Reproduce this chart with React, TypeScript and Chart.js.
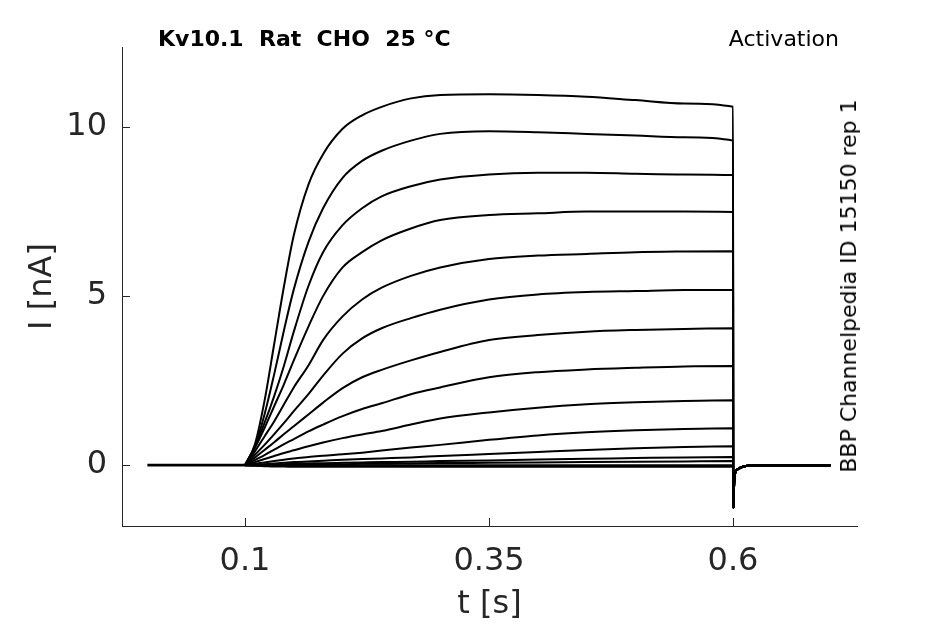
import React, { useEffect, useRef } from "react";
import { Chart, registerables } from "chart.js";

Chart.register(...registerables);

// holding period before the step (s)
const HOLD_TIME = [0, 0.1];

// sample times (s) during the step for each sweep
const TIME = [0.1, 0.11, 0.12, 0.13, 0.14, 0.15, 0.165, 0.18, 0.2, 0.22, 0.24, 0.27, 0.3, 0.35, 0.4, 0.45, 0.5, 0.55, 0.6];

// current (nA) of each sweep at the TIME points
const SWEEP_1 = [0, 0.6, 1.9, 3.6, 5.3, 6.8, 8.3, 9.2, 9.95, 10.35, 10.6, 10.85, 10.95, 10.97, 10.95, 10.9, 10.8, 10.7, 10.6];
const SWEEP_2 = [0, 0.55, 1.5, 2.7, 4.0, 5.2, 6.6, 7.6, 8.5, 9.0, 9.3, 9.6, 9.8, 9.88, 9.85, 9.8, 9.75, 9.7, 9.6];
const SWEEP_3 = [0, 0.55, 1.25, 2.05, 2.95, 3.95, 5.3, 6.3, 7.1, 7.6, 7.95, 8.25, 8.45, 8.6, 8.65, 8.65, 8.62, 8.6, 8.58];
const SWEEP_4 = [0, 0.5, 1.1, 1.75, 2.4, 3.1, 4.1, 5.0, 5.85, 6.3, 6.65, 7.0, 7.25, 7.4, 7.45, 7.5, 7.5, 7.5, 7.49];
const SWEEP_5 = [0, 0.4, 0.85, 1.3, 1.8, 2.3, 2.95, 3.7, 4.4, 4.9, 5.25, 5.6, 5.85, 6.1, 6.2, 6.25, 6.3, 6.32, 6.33];
const SWEEP_6 = [0, 0.3, 0.6, 0.92, 1.25, 1.6, 2.1, 2.65, 3.3, 3.75, 4.05, 4.35, 4.6, 4.9, 5.05, 5.12, 5.15, 5.18, 5.18];
const SWEEP_7 = [0, 0.22, 0.45, 0.68, 0.92, 1.15, 1.5, 1.85, 2.28, 2.6, 2.82, 3.1, 3.35, 3.7, 3.85, 3.95, 4.0, 4.03, 4.05];
const SWEEP_8 = [0, 0.15, 0.3, 0.46, 0.62, 0.77, 1.0, 1.2, 1.45, 1.66, 1.83, 2.1, 2.3, 2.6, 2.75, 2.83, 2.88, 2.92, 2.93];
const SWEEP_9 = [0, 0.09, 0.18, 0.27, 0.36, 0.44, 0.56, 0.67, 0.8, 0.91, 1.01, 1.2, 1.38, 1.56, 1.7, 1.8, 1.86, 1.9, 1.92];
const SWEEP_10 = [0, 0.04, 0.08, 0.12, 0.16, 0.2, 0.24, 0.28, 0.32, 0.37, 0.43, 0.52, 0.6, 0.75, 0.88, 0.97, 1.03, 1.07, 1.09];
const SWEEP_11 = [0, 0.01, 0.03, 0.05, 0.07, 0.09, 0.11, 0.13, 0.16, 0.18, 0.2, 0.23, 0.27, 0.33, 0.39, 0.45, 0.5, 0.54, 0.56];
const SWEEP_12 = [0, 0, 0.01, 0.02, 0.03, 0.04, 0.05, 0.06, 0.07, 0.08, 0.09, 0.1, 0.12, 0.14, 0.17, 0.19, 0.21, 0.23, 0.24];
const SWEEP_13 = [0, 0, 0, 0.01, 0.01, 0.02, 0.02, 0.03, 0.03, 0.04, 0.04, 0.05, 0.06, 0.07, 0.08, 0.09, 0.1, 0.11, 0.12];
const SWEEP_14 = [0, 0, 0, 0, 0, 0, 0, 0, 0, 0, 0, 0, 0, 0, 0, 0, 0, 0, 0];
const SWEEP_15 = [0, -0.02, -0.03, -0.04, -0.04, -0.05, -0.05, -0.05, -0.05, -0.05, -0.05, -0.05, -0.05, -0.05, -0.05, -0.05, -0.05, -0.05, -0.05];

const SWEEPS = [SWEEP_1, SWEEP_2, SWEEP_3, SWEEP_4, SWEEP_5, SWEEP_6, SWEEP_7, SWEEP_8,
  SWEEP_9, SWEEP_10, SWEEP_11, SWEEP_12, SWEEP_13, SWEEP_14, SWEEP_15];

// tail current after the step (capacitive spike)
const TAIL_TIME = [0.6002, 0.6012, 0.6025, 0.605, 0.608, 0.612, 0.62, 0.7];
const TAIL_CURRENT = [-1.27, -0.5, -0.2, -0.12, -0.07, -0.03, 0, 0];

const X_TICKS = [0.1, 0.35, 0.6];
const X_TICK_LABELS = ["0.1", "0.35", "0.6"];
const Y_TICKS = [0, 5, 10];

const AXIS_COLOR = "#262626";
const FONT = "'DejaVu Sans', sans-serif";

// matlab-like inward tick marks
const inwardTicks = {
  id: "inwardTicks",
  afterDraw(chart: Chart) {
    const { ctx, chartArea, scales } = chart;
    ctx.save();
    ctx.strokeStyle = AXIS_COLOR;
    ctx.lineWidth = 1;
    ctx.beginPath();
    X_TICKS.forEach((v) => {
      const px = Math.round(scales.x.getPixelForValue(v)) + 0.5;
      ctx.moveTo(px, chartArea.bottom);
      ctx.lineTo(px, chartArea.bottom - 8);
    });
    Y_TICKS.forEach((v) => {
      const py = Math.round(scales.y.getPixelForValue(v)) + 0.5;
      ctx.moveTo(chartArea.left, py);
      ctx.lineTo(chartArea.left + 8, py);
    });
    ctx.stroke();
    ctx.restore();
  },
};

const App: React.FC = () => {
  const canvasRef = useRef<HTMLCanvasElement | null>(null);
  const chartRef = useRef<Chart | null>(null);

  useEffect(() => {
    if (!canvasRef.current) return;
    if (chartRef.current) chartRef.current.destroy();
    const ctx = canvasRef.current.getContext("2d");
    if (!ctx) return;

    const sweepSets = SWEEPS.map((sweep) => {
      const pts = TIME.map((t, i) => ({ x: t, y: sweep[i] }));
      TAIL_TIME.forEach((t, i) => pts.push({ x: t, y: TAIL_CURRENT[i] }));
      return {
        data: pts,
        borderColor: "#000000",
        borderWidth: 2,
        pointRadius: 0,
        fill: false,
        cubicInterpolationMode: "monotone" as const,
      };
    });

    const holdSet = {
      data: HOLD_TIME.map((t) => ({ x: t, y: 0 })),
      borderColor: "#000000",
      borderWidth: 2.6,
      pointRadius: 0,
      fill: false,
    };

    chartRef.current = new Chart(ctx, {
      type: "line",
      data: { datasets: [holdSet, ...sweepSets] },
      plugins: [inwardTicks],
      options: {
        responsive: false,
        animation: false,
        layout: { padding: { top: 47, right: 88, left: 0, bottom: 0 } },
        plugins: {
          legend: { display: false },
          tooltip: { enabled: false },
        },
        scales: {
          x: {
            type: "linear",
            min: -0.026,
            max: 0.727,
            afterFit: (scale) => {
              scale.height = 98;
            },
            afterBuildTicks: (scale) => {
              scale.ticks = X_TICKS.map((v) => ({ value: v }));
            },
            grid: { display: true, drawOnChartArea: false, drawTicks: false },
            border: { display: true, color: AXIS_COLOR, width: 1 },
            ticks: {
              color: AXIS_COLOR,
              font: { family: FONT, size: 32 },
              padding: 16,
              maxRotation: 0,
              callback: (value) => X_TICK_LABELS[X_TICKS.indexOf(Number(value))] ?? "",
            },
            title: {
              display: true,
              text: "t [s]",
              color: AXIS_COLOR,
              font: { family: FONT, size: 32 },
              padding: { top: 1, bottom: 0 },
            },
          },
          y: {
            type: "linear",
            min: -1.8,
            max: 12.37,
            afterFit: (scale) => {
              scale.width = 122;
            },
            afterBuildTicks: (scale) => {
              scale.ticks = Y_TICKS.map((v) => ({ value: v }));
            },
            grid: { display: true, drawOnChartArea: false, drawTicks: false },
            border: { display: true, color: AXIS_COLOR, width: 1 },
            ticks: {
              color: AXIS_COLOR,
              font: { family: FONT, size: 32 },
              padding: 15,
            },
            title: {
              display: true,
              text: "I [nA]",
              color: AXIS_COLOR,
              font: { family: FONT, size: 32 },
              padding: { top: 23, bottom: 0 },
            },
          },
        },
      },
    });

    return () => {
      if (chartRef.current) {
        chartRef.current.destroy();
        chartRef.current = null;
      }
    };
  }, []);

  return (
    <div style={{ position: "absolute", left: 0, top: 0, width: 945, height: 624, background: "#ffffff", fontFamily: FONT }}>
      <canvas ref={canvasRef} width={945} height={624} />
      <div style={{ position: "absolute", left: 158, top: 28, fontSize: 22, lineHeight: "22px", fontWeight: "bold", color: "#000", whiteSpace: "pre" }}>
        {"Kv10.1  Rat  CHO  25 °C"}
      </div>
      <div style={{ position: "absolute", right: 106, top: 28, fontSize: 22, lineHeight: "22px", color: "#000", whiteSpace: "pre" }}>
        Activation
      </div>
      <div
        style={{
          position: "absolute",
          left: 849,
          top: 286,
          fontSize: 22,
          lineHeight: "22px",
          color: "#000",
          whiteSpace: "nowrap",
          transform: "translate(-50%, -50%) rotate(-90deg)",
        }}
      >
        BBP Channelpedia ID 15150 rep 1
      </div>
    </div>
  );
};

export default App;
